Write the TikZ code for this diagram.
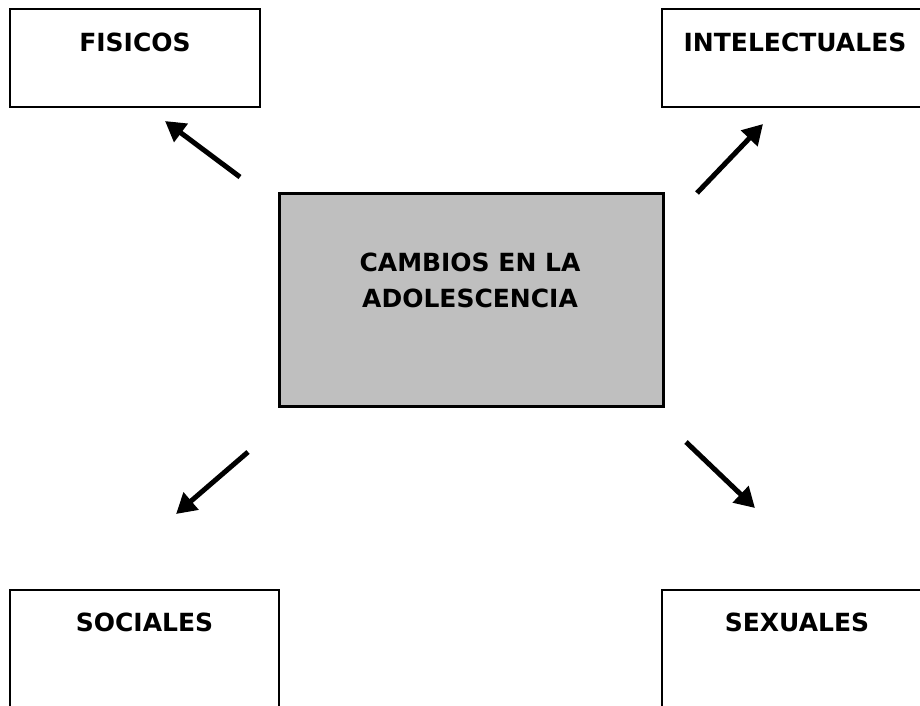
\documentclass[tikz,border=0pt]{standalone}
\usepackage{fontspec}
\setmainfont{DejaVu Sans}
\usetikzlibrary{arrows.meta}

\tikzset{
  box/.style={draw=black, line width=1.5pt, rectangle, inner sep=0pt},
  bigbox/.style={draw=black, line width=3pt, fill=gray!50, rectangle, inner sep=0pt},
  title/.style={inner sep=0pt, font=\bfseries\fontsize{25}{36}\selectfont, align=center},
  flecha/.style={line width=5pt, -{Triangle[length=20pt,width=22pt]}}
}

\begin{document}
\begin{tikzpicture}[x=1pt,y=-1pt]

        \useasboundingbox (0,0) rectangle (920,705);
        \clip (0,0) rectangle (920,705);

        \node[bigbox, minimum width=384pt, minimum height=213pt] (cambios) at (471,299.5) {};
        \node[title] (cambiostxt) at (470,280.5) {CAMBIOS EN LA\\ADOLESCENCIA};

        \node[box, minimum width=250pt, minimum height=98pt] (fisicos) at (135,58) {};
        \node[title] (fisicostxt) at (135,42) {FISICOS};

        \node[box, minimum width=268pt, minimum height=98pt] (intelect) at (796,58) {};
        \node[title] (intelecttxt) at (795,42) {INTELECTUALES};

        \node[box, minimum width=269pt, minimum height=140pt] (sociales) at (144.5,660) {};
        \node[title] (socialestxt) at (144.5,622) {SOCIALES};

        \node[box, minimum width=268pt, minimum height=140pt] (sexuales) at (796,660) {};
        \node[title] (sexualestxt) at (797,622) {SEXUALES};

        \coordinate (a1) at (240,177);
        \coordinate (b1) at (165,121);
        \coordinate (a2) at (697,193);
        \coordinate (b2) at (763,124);
        \coordinate (a3) at (248,452);
        \coordinate (b3) at (176,514);
        \coordinate (a4) at (686,442);
        \coordinate (b4) at (755,508);

        \draw[flecha] (a1) -- (b1);
        \draw[flecha] (a2) -- (b2);
        \draw[flecha] (a3) -- (b3);
        \draw[flecha] (a4) -- (b4);

\end{tikzpicture}
\end{document}
